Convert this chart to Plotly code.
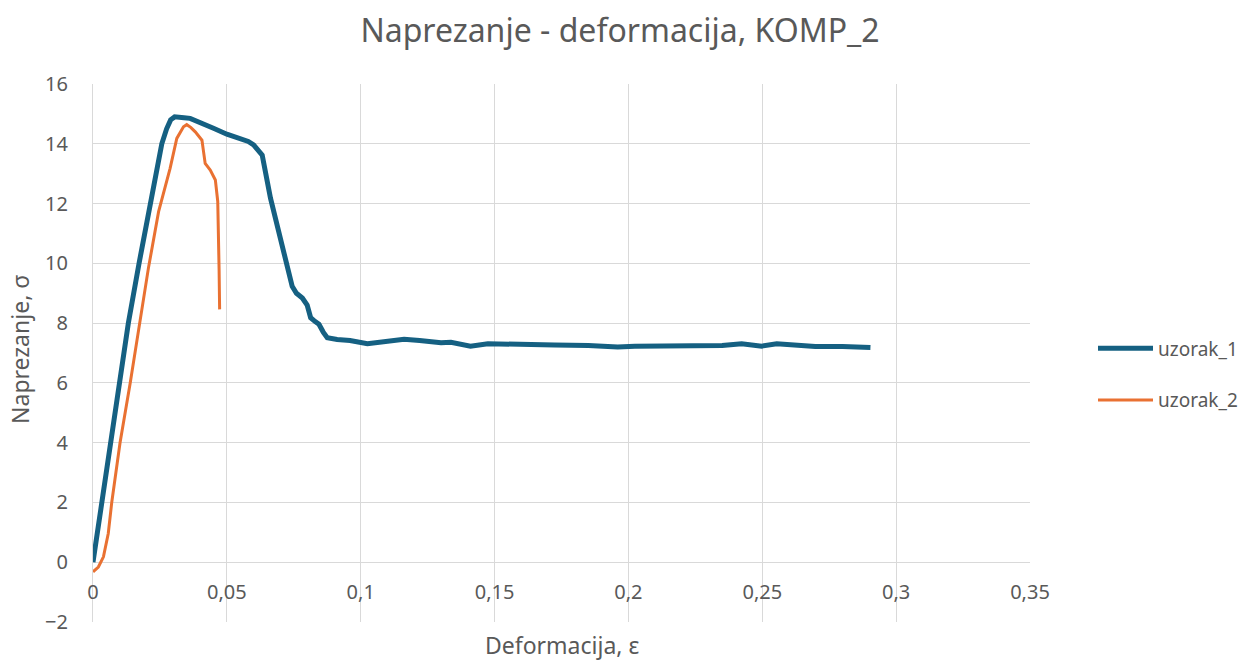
import plotly.graph_objects as go

# Uzorak 1: deformacija / naprezanje
eps1 = [0, 0.0033, 0.0066, 0.0099, 0.0132, 0.0172, 0.0215, 0.0257, 0.0275, 0.0290,
        0.0305, 0.0320, 0.0340, 0.0363, 0.0400, 0.0450, 0.0500, 0.0550, 0.0580, 0.0600,
        0.0615, 0.0632, 0.0663, 0.0694, 0.0725, 0.0744, 0.0760, 0.0782, 0.0800, 0.0813,
        0.0830, 0.0844, 0.0860, 0.0875, 0.0912, 0.0960, 0.1025, 0.1080, 0.1162, 0.1220,
        0.1300, 0.1337, 0.1410, 0.1475, 0.1674, 0.1724, 0.1850, 0.1960, 0.2024, 0.2199,
        0.2350, 0.2423, 0.2498, 0.2554, 0.2698, 0.2800, 0.2904]
sig1 = [0, 2, 4, 6, 8, 10, 12, 14, 14.5, 14.8,
        14.9, 14.9, 14.87, 14.85, 14.72, 14.52, 14.32, 14.18, 14.08, 13.96,
        13.8, 13.62, 12.18, 11.07, 9.84, 9.23, 9.0, 8.84, 8.6, 8.18,
        8.05, 7.96, 7.7, 7.51, 7.45, 7.42, 7.31, 7.36, 7.46, 7.42,
        7.34, 7.36, 7.23, 7.31, 7.31, 7.27, 7.25, 7.2, 7.23, 7.23,
        7.25, 7.31, 7.23, 7.31, 7.22, 7.22, 7.18]

# Uzorak 2: deformacija / naprezanje
eps2 = [0, 0.0020, 0.0039, 0.0057, 0.0070, 0.0101, 0.0139, 0.0173, 0.0207, 0.0245,
        0.0288, 0.0313, 0.0338, 0.0350, 0.0365, 0.0382, 0.0407, 0.0413, 0.0419, 0.0438,
        0.0457, 0.0466, 0.0469, 0.0471, 0.0473]
sig2 = [-0.32, -0.16, 0.18, 0.96, 2.0, 4, 6, 8, 9.84, 11.73,
        13.18, 14.18, 14.57, 14.64, 14.55, 14.4, 14.12, 13.73, 13.34, 13.12,
        12.79, 12.07, 10.96, 9.8, 8.46]

series_names = ["uzorak_1", "uzorak_2"]
series_colors = ["#156082", "#E97132"]

GRID = "#d9d9d9"
TXT = "#595959"
FONT = "Noto Sans"

fig = go.Figure()
fig.add_trace(go.Scatter(x=eps1, y=sig1, mode="lines", name=series_names[0],
                         legendgroup="a",
                         line=dict(color=series_colors[0], width=5)))
fig.add_trace(go.Scatter(x=eps2, y=sig2, mode="lines", name=series_names[1],
                         legendgroup="b",
                         line=dict(color=series_colors[1], width=3)))

L, R, T, B = 93, 229, 84, 40
W, H = 1259, 662
plot_w = W - L - R
plot_h = H - T - B
ymin, ymax = -2, 16
zero_pos = (0 - ymin) / (ymax - ymin)

fig.update_layout(
    width=W, height=H,
    margin=dict(l=L, r=R, t=T, b=B),
    paper_bgcolor="white", plot_bgcolor="white",
    separators=", ",
    font=dict(family=FONT, color=TXT, size=20),
    title=dict(text="Naprezanje - deformacija, KOMP_2", x=620 / W, xref="container",
               xanchor="center", y=1 - 31 / H, yref="container", yanchor="middle",
               font=dict(size=32, color=TXT, family=FONT)),
    xaxis=dict(range=[0, 0.35], dtick=0.05, tick0=0, showgrid=True, gridcolor=GRID,
               gridwidth=1, zeroline=False, showline=False, anchor="free",
               position=zero_pos, ticks="", ticklabelstandoff=16,
               tickfont=dict(size=20, color=TXT), tickformat=",.2~f"),
    yaxis=dict(range=[ymin, ymax], dtick=2, showgrid=True, gridcolor=GRID,
               gridwidth=1, zeroline=True, zerolinecolor=GRID, zerolinewidth=1,
               showline=True, linecolor=GRID, linewidth=1, ticks="",
               ticklabelstandoff=20, tickfont=dict(size=20, color=TXT)),
    legend=dict(x=(1093 - L) / plot_w, xanchor="left", y=0.46, yanchor="middle",
                font=dict(size=19, color=TXT), tracegroupgap=24, itemwidth=55,
                bgcolor="rgba(0,0,0,0)"),
    annotations=[
        dict(text="Deformacija, ε", xref="paper", yref="paper", x=0.5,
             y=-(645 - (H - B)) / plot_h, xanchor="center", yanchor="middle",
             showarrow=False, font=dict(size=23, color=TXT, family=FONT)),
        dict(text="Naprezanje, σ", xref="paper", yref="paper", x=-(L - 20) / plot_w,
             y=(H - B - 350) / plot_h, xanchor="center", yanchor="middle",
             textangle=-90, showarrow=False, font=dict(size=23, color=TXT, family=FONT)),
    ],
)

fig.write_html("out.html")
